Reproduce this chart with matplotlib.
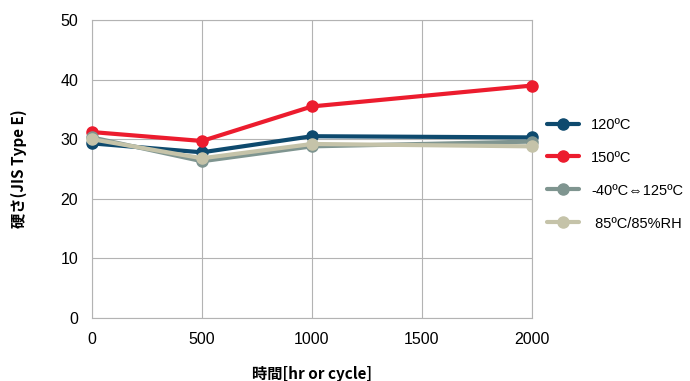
import matplotlib.pyplot as plt

plt.rcParams['font.family'] = ['Liberation Sans', 'DejaVu Sans', 'Noto Sans CJK JP']

hours = [0, 500, 1000, 2000]
h120 = [29.3, 27.8, 30.5, 30.3]
h150 = [31.2, 29.7, 35.5, 39.0]
cycle = [30.3, 26.3, 28.8, 29.6]
humid = [30.0, 26.8, 29.2, 28.8]

labels = ['120ºC', '150ºC', '-40ºC⇔125ºC', ' 85ºC/85%RH']
colors = ['#0e4a6e', '#ec1c2e', '#7f9590', '#c5c3a9']

fig = plt.figure(figsize=(6.9, 3.81), dpi=100)
ax = fig.add_axes([92/690, 1-318/381, 440/690, 298/381])

for ys, lab, c in zip([h120, h150, cycle, humid], labels, colors):
    ax.plot(hours, ys, color=c, lw=3, marker='o', ms=8, label=lab,
            solid_capstyle='round', clip_on=False, zorder=3)

ax.set_xlim(0, 2000)
ax.set_ylim(0, 50)
ax.set_xticks([0, 500, 1000, 1500, 2000])
ax.set_yticks(range(0, 51, 10))
ax.grid(True, color='#b3b3b3', lw=0.8)
ax.set_axisbelow(True)
for s in ax.spines.values():
    s.set_color('#b3b3b3')
    s.set_linewidth(0.8)
ax.tick_params(length=0, labelsize=11.5, pad=10)

ax.set_xlabel('時間[hr or cycle]', fontsize=11, fontweight='bold',
              family=['Noto Sans CJK JP', 'DejaVu Sans'], labelpad=14)
ax.set_ylabel('硬さ(JIS Type E)', fontsize=11, fontweight='bold',
              family=['Noto Sans CJK JP', 'DejaVu Sans'], labelpad=24)

leg = ax.legend(loc='center left', bbox_to_anchor=(1.035, 0.483),
                frameon=False, borderaxespad=0, borderpad=0,
                fontsize=10.5, handlelength=2.2, labelspacing=1.3,
                handletextpad=0.8)
for l in leg.get_lines():
    l.set_linewidth(3)

fig.savefig('out.png', dpi=100)
